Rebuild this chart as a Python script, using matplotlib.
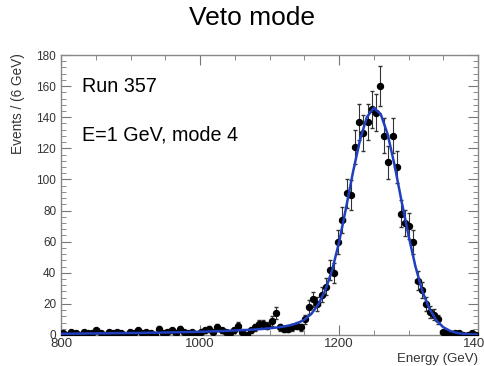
import numpy as np
import matplotlib.pyplot as plt
from matplotlib.ticker import MultipleLocator

plt.rcParams['font.family'] = ['Liberation Sans', 'DejaVu Sans']

# histogram: 6 GeV bins from 800 to 1400 (bin centres)
energy = np.arange(803, 1400, 6)
counts = [1, 0, 2, 1, 0, 2, 1, 1, 3, 1,
          0, 2, 1, 2, 1, 0, 2, 1, 3, 1,
          2, 1, 0, 4, 1, 2, 3, 1, 4, 2,
          1, 2, 0, 2, 3, 4, 2, 5, 3, 2,
          1, 3, 6, 2, 0, 3, 5, 7, 7, 6,
          9, 14, 5, 4, 4, 5, 6, 5, 10, 18,
          23, 20, 26, 31, 42, 40, 60, 74, 91, 90,
          121, 137, 130, 137, 145, 143, 160, 128, 111, 128,
          108, 78, 72, 70, 60, 35, 29, 20, 15, 13,
          10, 2, 1, 0, 1, 1, 0, 0, 1, 0]

# fitted curve (every 10 GeV)
fit_e = np.arange(800, 1401, 10)
fit_v = [0.8, 0.8, 0.9, 0.9, 1.0, 1.0, 1.1, 1.1, 1.2, 1.2,
         1.3, 1.3, 1.4, 1.5, 1.5, 1.6, 1.7, 1.8, 1.9, 2.0,
         2.1, 2.2, 2.4, 2.5, 2.7, 2.9, 3.1, 3.3, 3.6, 3.9,
         4.3, 4.8, 5.4, 6.3, 7.6, 9.8, 13.5, 19.5, 28.5, 41.5,
         59.5, 81.5, 104.5, 125, 140, 146, 142, 129, 109, 86,
         64, 44, 28, 17, 9.5, 5, 2.6, 1.3, 0.7, 0.4, 0.3]

counts = np.array(counts, dtype=float)
err = np.sqrt(counts)

fig = plt.figure(figsize=(4.85, 3.66), dpi=100)
ax = fig.add_axes([0.1258, 0.0847, 0.8598, 0.765])

ax.errorbar(energy, counts, yerr=err, xerr=3, fmt='o', color='black',
            ms=4.3, elinewidth=0.8, ecolor='#333333', capsize=1.2, zorder=3)
ax.plot(fit_e, fit_v, color='#1f3fbf', lw=1.8, zorder=4)

ax.set_xlim(800, 1400)
ax.set_ylim(0, 180)
ax.xaxis.set_major_locator(MultipleLocator(200))
ax.xaxis.set_minor_locator(MultipleLocator(50))
ax.yaxis.set_major_locator(MultipleLocator(20))
ax.yaxis.set_minor_locator(MultipleLocator(4))
ax.tick_params(which='both', direction='in', top=True, right=True,
               colors='#777777', labelcolor='#333333', labelsize=8.5)
ax.tick_params(axis='x', labelsize=9.5, pad=2)
ax.tick_params(which='major', length=7)
ax.tick_params(which='minor', length=3.5)
for s in ax.spines.values():
    s.set_color('#888888')
    s.set_linewidth(1.0)

ax.text(0.05, 0.886, 'Run 357', transform=ax.transAxes, fontsize=14.2,
        va='center', ha='left')
ax.text(0.05, 0.714, 'E=1 GeV, mode 4', transform=ax.transAxes, fontsize=14.2,
        va='center', ha='left')

fig.text(252 / 485, 1 - 18 / 366, 'Veto mode', fontsize=19,
         ha='center', va='center')
fig.text(18 / 485, 1 - 53 / 366, 'Events / (6 GeV)', fontsize=9.8,
         rotation=90, ha='center', va='top', color='#333333')
fig.text(478 / 485, 1 - 359 / 366, 'Energy (GeV)', fontsize=9.5,
         ha='right', va='center', color='#333333')

plt.savefig('out.png', dpi=100)
